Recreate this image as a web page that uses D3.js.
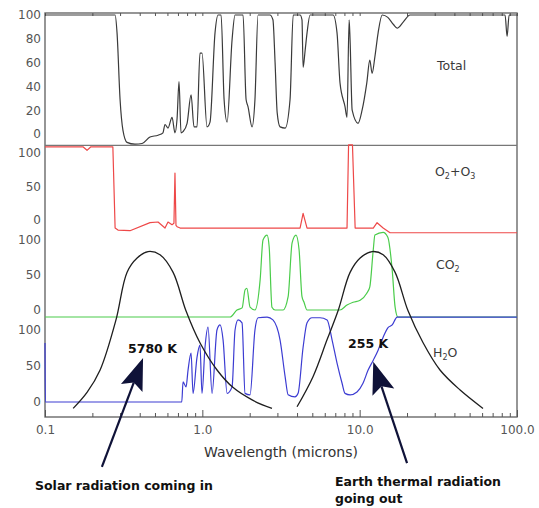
<!DOCTYPE html>
<html>
<head>
<meta charset="utf-8">
<script src="https://cdn.jsdelivr.net/npm/d3@7"></script>
<style>
  body { margin: 0; background: #fff; }
  svg { display: block; font-family: "DejaVu Sans", "Liberation Sans", Arial, sans-serif; }
</style>
</head>
<body>
<svg id="chart"></svg>
<script>
// [wavelength (microns), percent]
const totalData = [
  [0.1, 100], [0.279, 100], [0.287, 85], [0.3, 29], [0.313, 3], [0.332, -7], [0.373, -8.5],
  [0.414, -8], [0.465, -2.5], [0.523, -1], [0.562, 1], [0.579, 8], [0.605, 5], [0.642, 14],
  [0.67, 1], [0.691, 13], [0.711, 44], [0.732, 1], [0.754, 2], [0.8, 9], [0.848, 33],
  [0.885, 6], [0.925, 6], [0.966, 68], [0.995, 68], [1.071, 6], [1.119, 10], [1.204, 85],
  [1.259, 100], [1.316, 100], [1.375, 29], [1.437, 10], [1.545, 79], [1.614, 100],
  [1.815, 100], [1.897, 29], [1.951, 23], [2.07, 6], [2.16, 29], [2.26, 100], [2.69, 100],
  [2.81, 96], [2.9, 60], [2.99, 18], [3.12, 6], [3.36, 5], [3.61, 29], [3.78, 100],
  [4.18, 100], [4.3, 96], [4.37, 56], [4.5, 70], [4.63, 85], [4.84, 100], [6.78, 100],
  [7.18, 85], [7.5, 43], [8.07, 23], [8.31, 14], [8.57, 96], [8.69, 79], [8.96, 20],
  [9.77, 9], [10.36, 20], [11.1, 43], [11.6, 62], [12.0, 51], [12.5, 65], [13.1, 85],
  [13.9, 100], [15.1, 98], [16.4, 92], [17.3, 89], [18.9, 94], [20.9, 100], [84, 100],
  [86.5, 82], [89.1, 100], [100, 100]
];
const o2o3Data = [
  [0.1, 109], [0.175, 109], [0.185, 104], [0.195, 109], [0.27, 109], [0.279, -12],
  [0.291, -15], [0.347, -16], [0.465, -4], [0.523, -3], [0.579, -12], [0.605, -3],
  [0.642, -7], [0.66, -5], [0.67, 70], [0.68, -8], [0.691, -10], [0.722, -12], [4.18, -12],
  [4.37, 10], [4.63, -12], [8.31, -12], [8.5, 112], [9.0, 112], [9.36, -12], [12.2, -12],
  [12.9, -4], [14.1, -12], [15.6, -19], [100, -19]
];
const co2Data = [
  [0.1, -10], [1.5, -10], [1.66, 0], [1.79, 3], [1.87, 29], [1.92, 31], [2.01, 4], [2.16, 0],
  [2.33, 43], [2.43, 100], [2.58, 107], [2.66, 90], [2.77, 4], [2.9, 0], [3.26, 0],
  [3.51, 19], [3.72, 96], [3.94, 107], [4.12, 86], [4.3, 19], [4.43, 11], [4.63, 0],
  [7.5, 0], [8.31, 7], [9.08, 11], [10.07, 14], [11.1, 24], [11.6, 33], [12.2, 86],
  [12.5, 107], [14.1, 111], [15.1, 104], [16.1, 57], [16.8, 4], [17.5, -10], [100, -10]
];
const h2oData = [
  [0.1, 82], [0.1005, 0], [0.74, 0], [0.754, 28], [0.788, 21], [0.811, 44], [0.848, 68],
  [0.873, 12], [0.925, 62], [0.966, 79], [0.995, 12], [1.04, 76], [1.087, 104], [1.153, 12],
  [1.239, 100], [1.297, 107], [1.355, 86], [1.437, 12], [1.545, 21], [1.614, 100],
  [1.687, 114], [1.788, 110], [1.868, 12], [2.01, 10], [2.16, 100], [2.26, 117], [2.58, 118],
  [2.81, 114], [3.12, 86], [3.36, 35], [3.51, 10], [3.88, 7], [4.06, 12], [4.37, 76],
  [4.63, 110], [4.98, 117], [5.6, 117], [6.21, 114], [6.68, 86], [7.18, 54], [7.73, 26],
  [8.07, 12], [8.69, 10], [9.62, 14], [10.5, 26], [11.3, 44], [12.2, 58], [13.1, 72],
  [14.1, 90], [15.1, 103], [16.1, 107], [17.3, 118], [100, 118]
];

// blackbody curves, [wavelength, relative intensity]
const solarCurve = [
  [0.151, 0.01], [0.185, 0.11], [0.224, 0.25], [0.282, 0.56], [0.332, 0.86], [0.385, 0.95],
  [0.452, 0.99], [0.538, 0.97], [0.652, 0.86], [0.787, 0.62], [0.966, 0.42], [1.24, 0.25],
  [1.57, 0.14], [2.1, 0.06], [2.77, 0.01]
];
const earthCurve = [
  [4.0, 0.02], [5.06, 0.21], [6.21, 0.44], [7.29, 0.62], [8.69, 0.86], [10.07, 0.95],
  [12.0, 0.99], [14.1, 0.97], [16.8, 0.86], [20.3, 0.62], [25.3, 0.42], [32.4, 0.25],
  [43.5, 0.125], [60.8, 0.01]
];

const xTickValues = [0.1, 1, 10, 100];
const xTickLabels = ["0.1", "1.0", "10.0", "100.0"];
const totalTicks = [0, 20, 40, 60, 80, 100];
const gasTicks = [0, 50, 100];

// arrows, in [wavelength, H2O panel value]
const solarArrow = { from: [0.23, -90], to: [0.42, 61] };
const earthArrow = { from: [20.0, -85], to: [12.2, 56] };

const frame = { left: 45, right: 517, top: 13, bottom: 417 };

const svg = d3.select("#chart").attr("width", 539).attr("height", 508);

const x = d3.scaleLog().domain([0.1, 100]).range([frame.left, frame.right]);

const panels = [
  { data: totalData, color: "#3a3a3a", range: [134, 15], ticks: totalTicks },
  { data: o2o3Data, color: "#ee4848", range: [220, 153], ticks: gasTicks },
  { data: co2Data, color: "#4acc4a", range: [310, 240], ticks: gasTicks },
  { data: h2oData, color: "#3c3cd2", range: [402, 330], ticks: gasTicks },
];
panels.forEach((p) => {
  p.y = d3.scaleLinear().domain([0, 100]).range(p.range);
});

// frame
svg
  .append("rect")
  .attr("x", frame.left)
  .attr("y", frame.top)
  .attr("width", frame.right - frame.left)
  .attr("height", frame.bottom - frame.top)
  .attr("fill", "none")
  .attr("stroke", "#6a6a6a")
  .attr("stroke-width", 1.4);

// separator under Total
svg
  .append("line")
  .attr("x1", frame.left)
  .attr("x2", frame.right)
  .attr("y1", panels[0].y(-9.5))
  .attr("y2", panels[0].y(-9.5))
  .attr("stroke", "#777")
  .attr("stroke-width", 1.3);

// x axes
const minorTicks = x.ticks().filter((d) => !xTickValues.includes(d));

const styleAxis = (g) => {
  g.select(".domain").remove();
  g.selectAll(".tick line").attr("stroke", "#555");
  g.selectAll(".tick text")
    .attr("fill", "#555")
    .style("font-size", "12px")
    .style("font-family", '"DejaVu Sans", sans-serif');
};

svg
  .append("g")
  .attr("transform", `translate(0,${frame.bottom})`)
  .call(d3.axisBottom(x).tickValues(minorTicks).tickSize(-4).tickFormat(""))
  .call(styleAxis);
svg
  .append("g")
  .attr("transform", `translate(0,${frame.bottom})`)
  .call(
    d3.axisBottom(x)
      .tickValues(xTickValues)
      .tickSize(-7)
      .tickPadding(8)
      .tickFormat((d, i) => xTickLabels[i])
  )
  .call(styleAxis);
svg
  .append("g")
  .attr("transform", `translate(0,${frame.top})`)
  .call(d3.axisTop(x).tickValues(x.ticks()).tickSize(-3).tickFormat(""))
  .call(styleAxis);

svg
  .append("text")
  .attr("x", (frame.left + frame.right) / 2)
  .attr("y", 457)
  .attr("text-anchor", "middle")
  .attr("fill", "#333")
  .style("font-size", "14px")
  .text("Wavelength (microns)");

// y axes, one per panel
panels.forEach((p) => {
  svg
    .append("g")
    .attr("transform", `translate(${frame.left},0)`)
    .call(d3.axisLeft(p.y).tickValues(p.ticks).tickSize(0).tickPadding(4))
    .call(styleAxis);
});

// absorption lines
panels.forEach((p, i) => {
  const line = d3
    .line()
    .curve(i === 1 ? d3.curveLinear : d3.curveMonotoneX)
    .x((d) => x(d[0]))
    .y((d) => p.y(d[1]));
  svg
    .append("path")
    .datum(p.data)
    .attr("fill", "none")
    .attr("stroke", p.color)
    .attr("stroke-width", 1.2)
    .attr("stroke-linejoin", "round")
    .attr("d", line);
});

// panel names
const panelLabels = [
  { x: 437, y: 70, parts: [["Total", 0]] },
  { x: 435, y: 176, parts: [["O", 0], ["2", 1], ["+O", 0], ["3", 1]] },
  { x: 436, y: 269, parts: [["CO", 0], ["2", 1]] },
  { x: 433, y: 357, parts: [["H", 0], ["2", 1], ["O", 0]] },
];
panelLabels.forEach((l) => {
  const t = svg
    .append("text")
    .attr("x", l.x)
    .attr("y", l.y)
    .attr("fill", "#3a3a3a")
    .style("font-size", "12.5px");
  let sub = false;
  l.parts.forEach(([s, isSub]) => {
    const dy = isSub && !sub ? 3 : !isSub && sub ? -3 : 0;
    t.append("tspan")
      .attr("dy", dy)
      .style("font-size", isSub ? "8px" : "12.5px")
      .text(s);
    sub = !!isSub;
  });
});

// blackbody curves
const bb = d3.scaleLinear().domain([0, 1]).range([410, 250]);
const bbLine = d3
  .line()
  .curve(d3.curveCatmullRom)
  .x((d) => x(d[0]))
  .y((d) => bb(d[1]));
[solarCurve, earthCurve].forEach((c) => {
  svg
    .append("path")
    .datum(c)
    .attr("fill", "none")
    .attr("stroke", "#1e1e1e")
    .attr("stroke-width", 1.3)
    .attr("d", bbLine);
});

svg
  .append("text")
  .attr("x", 128)
  .attr("y", 353)
  .attr("fill", "#111")
  .style("font-size", "12.5px")
  .style("font-weight", "bold")
  .text("5780 K");
svg
  .append("text")
  .attr("x", 348)
  .attr("y", 348)
  .attr("fill", "#111")
  .style("font-size", "12.5px")
  .style("font-weight", "bold")
  .text("255 K");

// arrows
const yArrow = panels[3].y;
function drawArrow(a) {
  const x0 = x(a.from[0]), y0 = yArrow(a.from[1]);
  const x1 = x(a.to[0]), y1 = yArrow(a.to[1]);
  const len = Math.hypot(x1 - x0, y1 - y0);
  const ux = (x1 - x0) / len, uy = (y1 - y0) / len;
  const headLen = 32, halfW = 11.5, notch = 6;
  const bx = x1 - ux * headLen, by = y1 - uy * headLen;
  svg
    .append("line")
    .attr("x1", x0)
    .attr("y1", y0)
    .attr("x2", bx + ux * notch)
    .attr("y2", by + uy * notch)
    .attr("stroke", "#0f1238")
    .attr("stroke-width", 2.2);
  const pts = [
    [x1, y1],
    [bx - uy * halfW, by + ux * halfW],
    [bx + ux * notch, by + uy * notch],
    [bx + uy * halfW, by - ux * halfW],
  ];
  svg
    .append("path")
    .attr("d", "M" + pts.map((p) => p.join(",")).join("L") + "Z")
    .attr("fill", "#0f1238");
}
drawArrow(solarArrow);
drawArrow(earthArrow);

svg
  .append("text")
  .attr("x", 35)
  .attr("y", 490)
  .attr("fill", "#111")
  .style("font-size", "12.5px")
  .style("font-weight", "bold")
  .text("Solar radiation coming in");
svg
  .append("text")
  .attr("x", 335)
  .attr("y", 486)
  .attr("fill", "#111")
  .style("font-size", "12.5px")
  .style("font-weight", "bold")
  .text("Earth thermal radiation");
svg
  .append("text")
  .attr("x", 335)
  .attr("y", 503)
  .attr("fill", "#111")
  .style("font-size", "12.5px")
  .style("font-weight", "bold")
  .text("going out");
</script>
</body>
</html>
